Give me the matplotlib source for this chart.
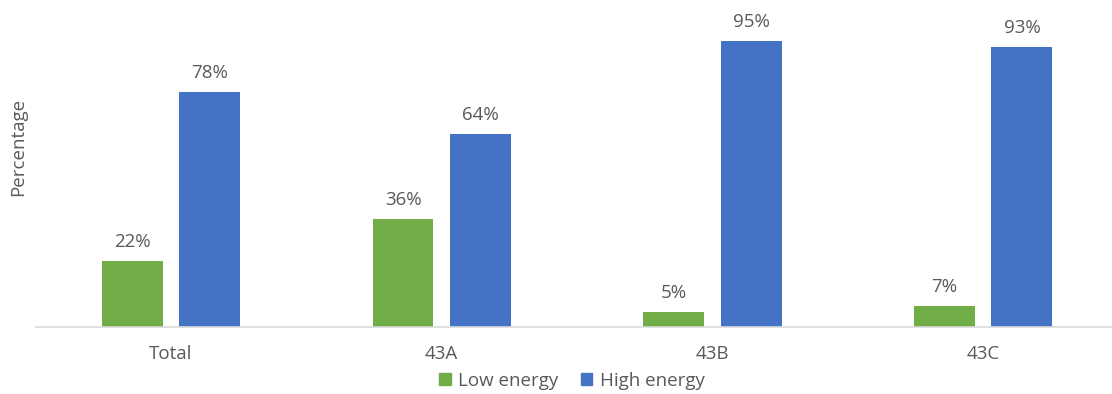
import matplotlib
matplotlib.use("Agg")
import matplotlib.pyplot as plt
import numpy as np
from matplotlib.patches import Patch

categories = ["Total", "43A", "43B", "43C"]
low_energy = [22, 36, 5, 7]
high_energy = [78, 64, 95, 93]
series_names = ["Low energy", "High energy"]

GREEN = "#70AD47"
BLUE = "#4472C4"
TEXT = "#595959"

plt.rcParams["font.family"] = ["Open Sans", "DejaVu Sans"]
FS = 13.5

W, H = 1112, 394
fig = plt.figure(figsize=(W / 100, H / 100), dpi=100)
ax = fig.add_axes([35.6 / W, (H - 327) / H, 1083 / W, 301 / H])

x = np.arange(len(categories))
off, bw = 0.143, 0.225
b1 = ax.bar(x - off, low_energy, bw, color=GREEN, label=series_names[0])
b2 = ax.bar(x + off, high_energy, bw, color=BLUE, label=series_names[1])

for bars, vals in ((b1, low_energy), (b2, high_energy)):
    for r, v in zip(bars, vals):
        ax.annotate(f"{v}%", (r.get_x() + r.get_width() / 2, v),
                    xytext=(0, 10), textcoords="offset pixels",
                    ha="center", va="bottom", fontsize=FS, color=TEXT)

ax.set_xlim(-0.5, 3.5)
ax.set_ylim(0, 100)
ax.set_xticks(x)
ax.set_xticklabels(categories, fontsize=FS, color=TEXT)
ax.tick_params(axis="x", length=0, pad=13)
ax.set_yticks([])
for s in ("top", "right", "left"):
    ax.spines[s].set_visible(False)
ax.spines["bottom"].set_color("#D9D9D9")
ax.spines["bottom"].set_linewidth(1.2)

fig.text(18 / W, 1 - 147 / H, "Percentage", rotation=90, ha="center", va="center",
         fontsize=FS, color=TEXT)

handles = [Patch(color=GREEN), Patch(color=BLUE)]
fig.legend(handles, series_names, loc="center", bbox_to_anchor=(572 / W, 1 - 381 / H),
           ncol=2, frameon=False, fontsize=FS, labelcolor=TEXT,
           handlelength=0.6, handleheight=0.6, handletextpad=0.4, columnspacing=1.2)

fig.savefig("out.png", dpi=100)
